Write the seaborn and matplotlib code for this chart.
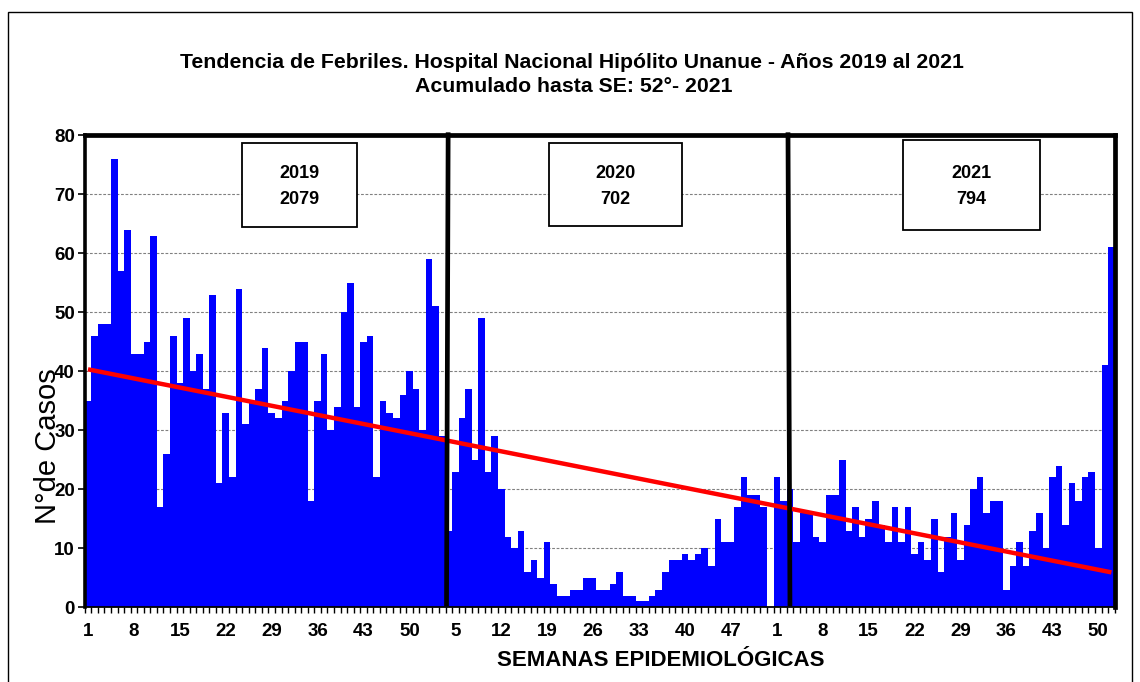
import numpy as np
import pandas as pd
import matplotlib
matplotlib.use("Agg")
import matplotlib.pyplot as plt
from matplotlib.patches import Rectangle
import seaborn as sns

# ---------------- data ----------------
weeks_2019 = list(range(1, 53))
weeks_2020 = list(range(1, 54))
weeks_2021 = list(range(1, 53))

cases_2019 = [35, 46, 48, 48, 76, 57, 64, 43, 43, 45,
              63, 17, 26, 46, 38, 49, 40, 43, 37, 53,
              21, 33, 22, 54, 31, 35, 37, 44, 33, 32,
              35, 40, 45, 45, 18, 35, 43, 30, 34, 50,
              55, 34, 45, 46, 22, 35, 33, 32, 36, 40,
              37, 30]
cases_2020 = [59, 51, 29, 13, 23, 32, 37, 25, 49, 23,
              29, 20, 12, 10, 13, 6, 8, 5, 11, 4,
              2, 2, 3, 3, 5, 5, 3, 3, 4, 6,
              2, 2, 1, 1, 2, 3, 6, 8, 8, 9,
              8, 9, 10, 7, 15, 11, 11, 17, 22, 19,
              19, 17, 0]
cases_2021 = [22, 18, 20, 11, 16, 16, 12, 11, 19, 19,
              25, 13, 17, 12, 15, 18, 14, 11, 17, 11,
              17, 9, 11, 8, 15, 6, 12, 16, 8, 14,
              20, 22, 16, 18, 18, 3, 7, 11, 7, 13,
              16, 10, 22, 24, 14, 21, 18, 22, 23, 10,
              41, 61]

year_labels = ["2019", "2020", "2021"]
year_totals = ["2079", "702", "794"]

title_1 = "Tendencia de Febriles. Hospital Nacional Hipólito Unanue - Años 2019 al 2021"
title_2 = "Acumulado hasta SE: 52°- 2021"
x_label = "SEMANAS EPIDEMIOLÓGICAS"
y_label = "N°de Casos"

weeks = weeks_2019 + weeks_2020 + weeks_2021
cases = cases_2019 + cases_2020 + cases_2021
df = pd.DataFrame({"pos": np.arange(len(cases)), "semana": weeks, "casos": cases})

# ---------------- figure ----------------
sns.set_theme(style="white")
plt.rcParams["font.family"] = ["Liberation Sans", "DejaVu Sans"]
plt.rcParams["text.color"] = "black"
plt.rcParams["axes.labelcolor"] = "black"
plt.rcParams["xtick.color"] = "black"
plt.rcParams["ytick.color"] = "black"

W, H = 1140, 682
fig = plt.figure(figsize=(W / 100, H / 100), dpi=100)
fig.patch.set_facecolor("white")

def fx(px):
    return px / W

def fy(py):
    return 1 - py / H

left_px, right_px, top_px, bottom_px = 84.7, 1114.7, 135.3, 607.3
ax = fig.add_axes([fx(left_px), fy(bottom_px), fx(right_px - left_px), (bottom_px - top_px) / H])

sns.barplot(data=df, x="pos", y="casos", color="#0000FF", saturation=1,
            width=1.0, linewidth=0, edgecolor="none", ax=ax, zorder=2)

# linear trend (computed from the data)
n = len(cases)
xs = np.arange(n)
slope, intercept = np.polyfit(xs + 1, np.array(cases, dtype=float), 1)
ax.plot(xs, intercept + slope * (xs + 1), color="#FF0000", lw=3.2, zorder=4,
        solid_capstyle="butt")

ax.set_xlim(-0.5, n - 0.5)
ax.set_ylim(0, 80)

# grid
ax.set_yticks(np.arange(0, 81, 10))
for v in range(10, 80, 10):
    ax.axhline(v, color="#808080", lw=0.8, ls=(0, (2.5, 1.5)), zorder=1)

# ticks
major_pos = list(range(0, n, 7))
ax.set_xticks(major_pos)
ax.set_xticklabels([str(weeks[i]) for i in major_pos], fontsize=13.5, fontweight="bold",
                   color="black")
ax.set_xticks(np.arange(-0.5, n, 1.0), minor=True)
ax.tick_params(axis="x", which="major", length=0, pad=11, colors="black")
ax.tick_params(axis="x", which="minor", length=4, width=1, direction="out",
               color="black", bottom=True)
ax.tick_params(axis="y", which="major", length=5, width=1.2, direction="out",
               left=True, pad=2, labelsize=13.5, colors="black")
for t in ax.get_yticklabels():
    t.set_fontweight("bold")

ax.set_xlabel("")
ax.set_ylabel("")

# spines
for s in ["left", "top", "right"]:
    ax.spines[s].set_visible(True)
    ax.spines[s].set_color("black")
ax.spines["left"].set_linewidth(2.6)
ax.spines["top"].set_linewidth(3.4)
ax.spines["right"].set_linewidth(3.4)
ax.spines["bottom"].set_linewidth(1.3)
ax.spines["bottom"].set_color("black")

# year separator lines (hand-drawn in original)
ax.plot([54.9, 54.65], [80.5, 0.2], color="black", lw=3.4, zorder=5, clip_on=False,
        solid_capstyle="butt")
ax.plot([106.7, 107.0], [80.5, 0.2], color="black", lw=3.4, zorder=5, clip_on=False,
        solid_capstyle="butt")

# year boxes
boxes_px = [(242, 143, 357, 227), (549, 143, 682, 226), (903, 140, 1040, 230)]
for (x0, y0, x1, y1), lab, tot in zip(boxes_px, year_labels, year_totals):
    fig.patches.append(Rectangle((fx(x0), fy(y1)), fx(x1 - x0), (y1 - y0) / H,
                                 transform=fig.transFigure, fill=True, facecolor="white",
                                 edgecolor="black", lw=1.3, zorder=6))
    cx = (x0 + x1) / 2
    fig.text(fx(cx), fy(174), lab, ha="center", va="center", fontsize=13,
             fontweight="bold", zorder=7)
    fig.text(fx(cx), fy(199), tot, ha="center", va="center", fontsize=13,
             fontweight="bold", zorder=7)

# titles & labels
fig.text(fx(572), fy(62), title_1, ha="center", va="center", fontsize=15.3, fontweight="bold")
fig.text(fx(574), fy(86), title_2, ha="center", va="center", fontsize=15.3, fontweight="bold")
fig.text(fx(661), fy(660), x_label, ha="center", va="center", fontsize=16, fontweight="bold")
fig.text(fx(48), fy(446), y_label, ha="center", va="center", fontsize=21, rotation=90, zorder=0)

# outer frame
fig.patches.append(Rectangle((fx(8), fy(700)), fx(1132 - 8), (700 - 12) / H,
                             transform=fig.transFigure, fill=False, edgecolor="black",
                             lw=1.0, zorder=0))

fig.savefig("out.png", dpi=100, facecolor="white")
